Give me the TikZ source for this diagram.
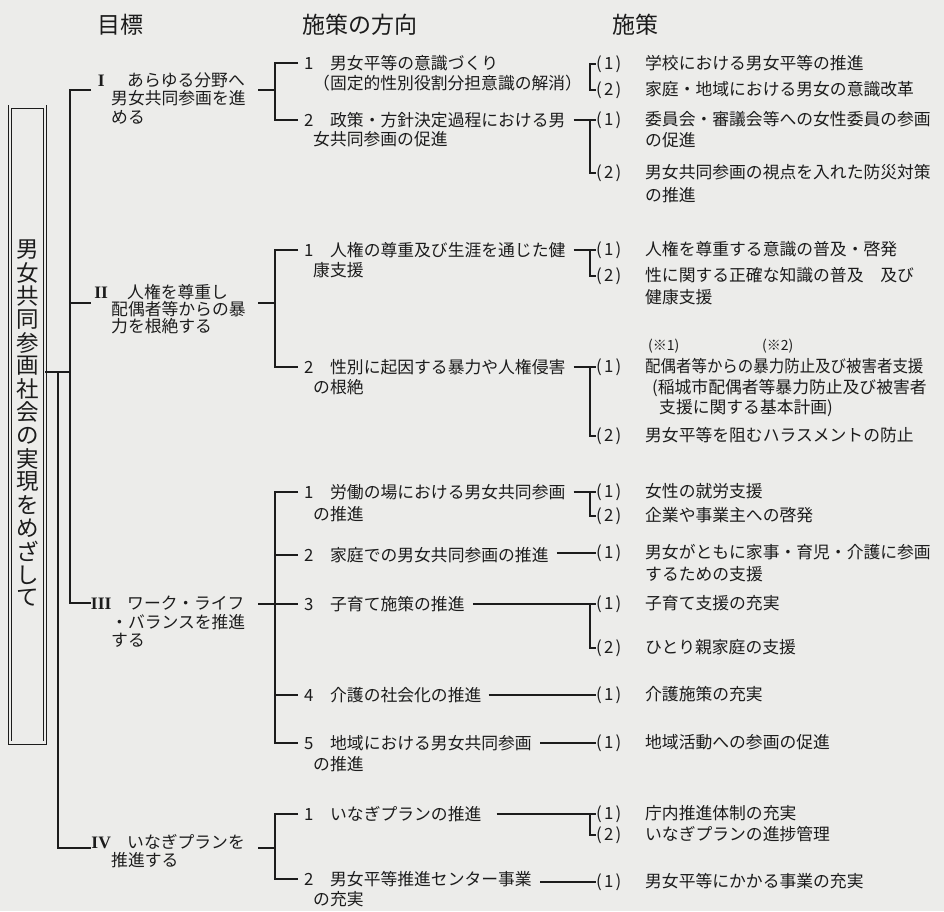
\documentclass[tikz,border=0pt]{standalone}
\usepackage{fontspec}
\setmainfont{Noto Sans CJK JP}
\newfontfamily\romfont{Liberation Serif}
\definecolor{bg}{RGB}{236,236,234}
\definecolor{ink}{RGB}{28,28,28}
\newcommand\goalnum[1]{\makebox[16pt]{\romfont\bfseries\fontsize{17.5}{20}\selectfont #1}\hspace{18pt}}
\newcommand\midnum[1]{\makebox[29pt][l]{\hspace{3pt}#1}}
\newcommand\polnum[1]{\makebox[49pt][l]{(\kern2.2pt#1\kern2.2pt)}}
\begin{document}
\begin{tikzpicture}[x=1pt,y=-1pt,
  txt/.style={anchor=west,inner sep=0pt,text=ink,font=\fontsize{16.8}{20}\selectfont},
  hdr/.style={anchor=west,inner sep=0pt,text=ink,font=\fontsize{23}{26}\selectfont},
  note/.style={anchor=west,inner sep=0pt,text=ink,font=\fontsize{14}{16}\selectfont},
  vch/.style={inner sep=0pt,text=ink,font=\fontsize{22.5}{24}\selectfont},
  ln/.style={draw=ink,line width=1.2pt},
]
\fill[bg] (0,0) rectangle (944,911);
\useasboundingbox (0,0) rectangle (944,911);

% headers
\node[hdr] (h1) at (97,25) {目標};
\node[hdr] (h2) at (302,25) {施策の方向};
\node[hdr] (h3) at (612,25) {施策};

% vertical box
\node[draw=ink,double=bg,double distance=2.2pt,line width=0.9pt,minimum width=35pt,minimum height=636pt,inner sep=0pt] (box) at (27.5,424.5) {};
\foreach \c [count=\i from 0] in {男,女,共,同,参,画,社,会,の,実,現,を,め,ざ,し,て}
  \node[vch] (v\i) at (27.5,{250+23.2*\i}) {\c};

% goals
\node[txt] (g1) at (93,80) {\goalnum{I}あらゆる分野へ};
\node[txt] (g1b) at (111,98) {男女共同参画を進};
\node[txt] (g1c) at (111,117) {める};
\node[txt] (g2) at (93,292) {\goalnum{II}人権を尊重し};
\node[txt] (g2b) at (111,309) {配偶者等からの暴};
\node[txt] (g2c) at (111,326) {力を根絶する};
\node[txt] (g3) at (93,603) {\goalnum{III}ワーク・ライフ};
\node[txt] (g3b) at (111,622) {・バランスを推進};
\node[txt] (g3c) at (111,640) {する};
\node[txt] (g4) at (93,842) {\goalnum{IV}いなぎプランを};
\node[txt] (g4b) at (111,860) {推進する};

% directions
\node[txt] (m11) at (301,63) {\midnum{1}男女平等の意識づくり};
\node[txt] (m11b) at (313,83) {（固定的性別役割分担意識の解消）};
\node[txt] (m12) at (301,120) {\midnum{2}政策・方針決定過程における男};
\node[txt] (m12b) at (313,139) {女共同参画の促進};
\node[txt] (m21) at (301,250) {\midnum{1}人権の尊重及び生涯を通じた健};
\node[txt] (m21b) at (313,270) {康支援};
\node[txt] (m22) at (301,367) {\midnum{2}性別に起因する暴力や人権侵害};
\node[txt] (m22b) at (313,387) {の根絶};
\node[txt] (m31) at (301,492) {\midnum{1}労働の場における男女共同参画};
\node[txt] (m31b) at (313,514) {の推進};
\node[txt] (m32) at (301,555) {\midnum{2}家庭での男女共同参画の推進};
\node[txt] (m33) at (301,604) {\midnum{3}子育て施策の推進};
\node[txt] (m34) at (301,695) {\midnum{4}介護の社会化の推進};
\node[txt] (m35) at (301,743) {\midnum{5}地域における男女共同参画};
\node[txt] (m35b) at (313,764) {の推進};
\node[txt] (m41) at (301,814) {\midnum{1}いなぎプランの推進};
\node[txt] (m42) at (301,879) {\midnum{2}男女平等推進センター事業};
\node[txt] (m42b) at (313,899) {の充実};

% measures
\node[txt] (r11) at (596,64) {\polnum{1}学校における男女平等の推進};
\node[txt] (r12) at (596,90) {\polnum{2}家庭・地域における男女の意識改革};
\node[txt] (r21) at (596,120) {\polnum{1}委員会・審議会等への女性委員の参画};
\node[txt] (r21b) at (645,140) {の促進};
\node[txt] (r22) at (596,173) {\polnum{2}男女共同参画の視点を入れた防災対策};
\node[txt] (r22b) at (645,195) {の推進};
\node[txt] (r31) at (596,250) {\polnum{1}人権を尊重する意識の普及・啓発};
\node[txt] (r32) at (596,276) {\polnum{2}性に関する正確な知識の普及　及び};
\node[txt] (r32b) at (645,297) {健康支援};
\node[note] (n1) at (648,346) {(※1)};
\node[note] (n2) at (762,346) {(※2)};
\node[txt] (r41) at (596,367) {\polnum{1}\scalebox{0.92}[1]{配偶者等からの暴力防止及び被害者支援}};
\node[txt] (r41b) at (652,388) {(稲城市配偶者等暴力防止及び被害者};
\node[txt] (r41c) at (659,408) {支援に関する基本計画)};
\node[txt] (r42) at (596,436) {\polnum{2}男女平等を阻むハラスメントの防止};
\node[txt] (r51) at (596,492) {\polnum{1}女性の就労支援};
\node[txt] (r52) at (596,516) {\polnum{2}企業や事業主への啓発};
\node[txt] (r61) at (596,553) {\polnum{1}男女がともに家事・育児・介護に参画};
\node[txt] (r61b) at (645,574) {するための支援};
\node[txt] (r71) at (596,604) {\polnum{1}子育て支援の充実};
\node[txt] (r72) at (596,648) {\polnum{2}ひとり親家庭の支援};
\node[txt] (r81) at (596,695) {\polnum{1}介護施策の充実};
\node[txt] (r91) at (596,743) {\polnum{1}地域活動への参画の促進};
\node[txt] (ra1) at (596,814) {\polnum{1}庁内推進体制の充実};
\node[txt] (ra2) at (596,835) {\polnum{2}いなぎプランの進捗管理};
\node[txt] (rb1) at (596,882) {\polnum{1}男女平等にかかる事業の充実};

% trunk coordinates
\coordinate (k1) at (70,90);
\coordinate (k2) at (70,303);
\coordinate (k3) at (70,603);
\coordinate (kb) at (70,372);
\coordinate (kk) at (58,372);
\coordinate (k4) at (58,848);
\coordinate (g1w) at (91,90);
\coordinate (g2w) at (91,303);
\coordinate (g3w) at (91,603);
\coordinate (g4w) at (91,848);
\draw[ln] (g1w) -- (k1) -- (k3) -- (g3w);
\draw[ln] (k2) -- (g2w);
\draw[ln] (box.east |- kb) -- (kb);
\draw[ln] (kk) -- (k4) -- (g4w);

% goal -> direction brackets
\coordinate (g1e) at (258,90);  \coordinate (b1) at (275,90);
\coordinate (g2e) at (258,303); \coordinate (b2) at (275,303);
\coordinate (g3e) at (258,604); \coordinate (b3) at (275,604);
\coordinate (g4e) at (258,848); \coordinate (b4) at (275,848);
\foreach \m in {m11,m12,m21,m22,m31,m32,m33,m34,m35,m41,m42}
  \coordinate (t\m) at ([xshift=-3pt]\m.west);
\draw[ln] (tm11) -| (b1) |- (tm12); \draw[ln] (g1e) -- (b1);
\draw[ln] (tm21) -| (b2) |- (tm22); \draw[ln] (g2e) -- (b2);
\draw[ln] (tm31) -| (b3) |- (tm35); \draw[ln] (g3e) -- (tm33);
\draw[ln] (b3 |- tm32) -- (tm32); \draw[ln] (b3 |- tm34) -- (tm34);
\draw[ln] (tm41) -| (b4) |- (tm42); \draw[ln] (g4e) -- (b4);

% direction -> measure connectors
\coordinate (jx) at (590,0);
\coordinate (s11) at ([xshift=7pt]m11b.east);
\foreach \m in {m12,m21,m22,m31,m32,m33,m35,m42}
  \coordinate (s\m) at ([xshift=8pt]\m.east);
\coordinate (sm34) at ([xshift=7pt]m34.east);
\coordinate (sm41) at ([xshift=15pt]m41.east);
\draw[ln] (s11 |- r11.west) -- (r11.west); \draw[ln] (jx |- r11.west) |- (r12.west);
\draw[ln] (sm12 |- r21.west) -- (r21.west); \draw[ln] (jx |- r21.west) |- (r22.west);
\draw[ln] (sm21 |- r31.west) -- (r31.west); \draw[ln] (jx |- r31.west) |- (r32.west);
\draw[ln] (sm22 |- r41.west) -- (r41.west); \draw[ln] (jx |- r41.west) |- (r42.west);
\draw[ln] (sm31 |- r51.west) -- (r51.west); \draw[ln] (jx |- r51.west) |- (r52.west);
\draw[ln] (sm32 |- r61.west) -- (r61.west);
\draw[ln] (sm33 |- r71.west) -- (r71.west); \draw[ln] (jx |- r71.west) |- (r72.west);
\draw[ln] (sm34 |- r81.west) -- (r81.west);
\draw[ln] (sm35 |- r91.west) -- (r91.west);
\draw[ln] (sm41 |- ra1.west) -- (ra1.west); \draw[ln] (jx |- ra1.west) |- (ra2.west);
\draw[ln] (sm42 |- rb1.west) -- (rb1.west);
\end{tikzpicture}
\end{document}
